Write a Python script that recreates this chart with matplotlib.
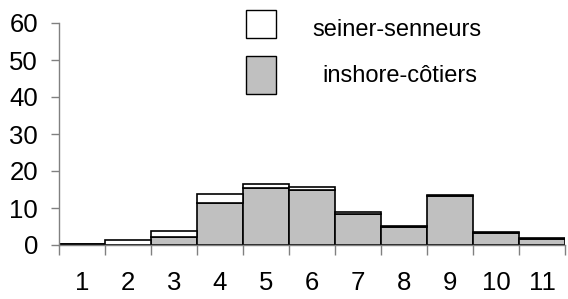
import matplotlib.pyplot as plt
from matplotlib.patches import Rectangle

categories = [1, 2, 3, 4, 5, 6, 7, 8, 9, 10, 11]
inshore = [0.2, 0.0, 2.2, 11.4, 15.4, 14.8, 8.5, 5.0, 13.3, 3.3, 1.7]
seiner = [0.1, 1.3, 1.6, 2.3, 1.2, 0.9, 0.3, 0.1, 0.1, 0.1, 0.1]
y_ticks = [0, 10, 20, 30, 40, 50, 60]
legend_labels = ["seiner-senneurs", "inshore-côtiers"]


def main() -> None:
    plt.rcParams["font.family"] = ["Liberation Sans", "DejaVu Sans"]
    fig = plt.figure(figsize=(5.68, 2.99), dpi=100)
    ax = fig.add_axes([59 / 568, 54 / 299, 506 / 568, 222 / 299])

    ax.bar(categories, inshore, width=1.0, color="#c0c0c0",
           edgecolor="black", linewidth=1.2)
    ax.bar(categories, seiner, width=1.0, bottom=inshore, color="white",
           edgecolor="black", linewidth=1.2)

    ax.set_xlim(0.5, 11.5)
    ax.set_ylim(0, 60)
    ax.set_yticks(y_ticks)
    ax.set_xticks([c - 0.5 for c in categories] + [categories[-1] + 0.5])
    ax.set_xticklabels([])
    ax.set_xticks(categories, minor=True)
    ax.set_xticklabels([str(c) for c in categories], minor=True)

    for side in ("top", "right"):
        ax.spines[side].set_visible(False)
    for side in ("left", "bottom"):
        ax.spines[side].set_color("#808080")
        ax.spines[side].set_linewidth(1.0)

    ax.tick_params(axis="y", direction="out", length=6, width=1.0,
                   color="#808080", labelsize=18.5, pad=9)
    ax.tick_params(axis="x", which="major", direction="out", length=7,
                   width=1.0, color="#808080")
    ax.tick_params(axis="x", which="minor", length=0, labelsize=18.5, pad=19)

    # legend drawn by hand, as in the original layout
    boxes = [((246 / 568, 261 / 299), 30 / 568, 28 / 299, "white"),
             ((246 / 568, 205 / 299), 30 / 568, 38 / 299, "#c0c0c0")]
    for (xy, w, h, fc) in boxes:
        fig.add_artist(Rectangle(xy, w, h, transform=fig.transFigure,
                                 facecolor=fc, edgecolor="black", linewidth=1.0))
    fig.text(312 / 568, 263 / 299, legend_labels[0], fontsize=17, va="baseline")
    fig.text(322 / 568, 217.5 / 299, legend_labels[1], fontsize=17, va="baseline")

    fig.savefig("out.png", dpi=100)


if __name__ == "__main__":
    main()
